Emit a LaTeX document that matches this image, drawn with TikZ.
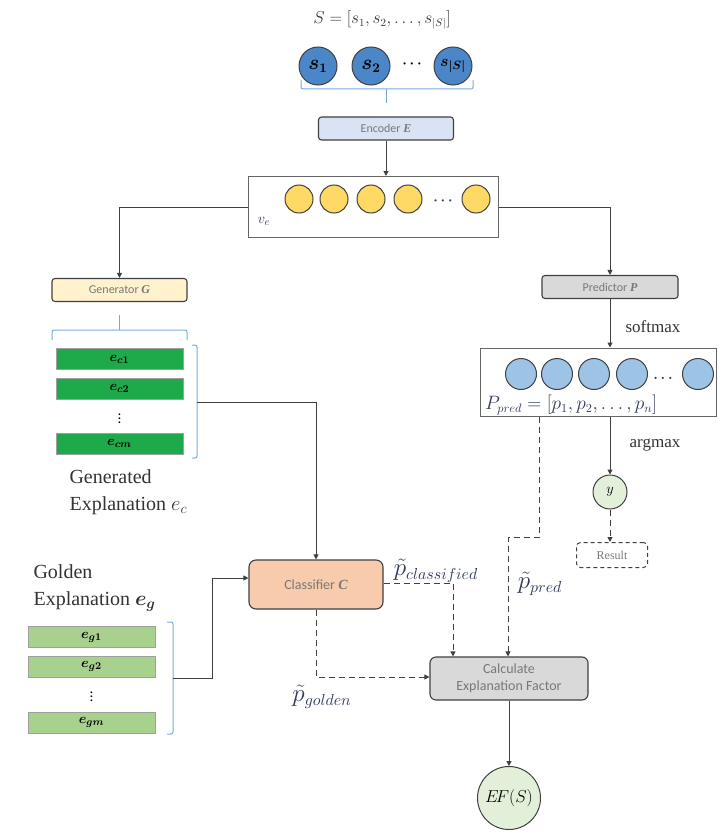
\documentclass[tikz,border=0pt]{standalone}
\usepackage{fontspec}
\usepackage{bm}
\usepackage{graphicx}
\setmainfont{Liberation Serif}
\newfontfamily\boxfont{Carlito}
\usetikzlibrary{arrows.meta}
\definecolor{sblue}{RGB}{74,134,200}
\definecolor{lblue}{RGB}{157,195,230}
\definecolor{yel}{RGB}{255,217,102}
\definecolor{dgreen}{RGB}{30,170,75}
\definecolor{lgreen}{RGB}{169,209,142}
\definecolor{encf}{RGB}{218,227,243}
\definecolor{genf}{RGB}{255,242,204}
\definecolor{grayf}{RGB}{217,217,217}
\definecolor{clsf}{RGB}{248,203,173}
\definecolor{pgreen}{RGB}{226,240,217}
\definecolor{brc}{RGB}{120,170,225}
\definecolor{bord}{RGB}{64,64,64}
\definecolor{txtg}{RGB}{120,120,120}
\definecolor{mtxt}{RGB}{50,60,90}
\begin{document}
\begin{tikzpicture}[x=1pt,y=-1pt,
  box/.style={draw=bord,line width=1.1pt,rounded corners=3pt,inner sep=0pt,font=\boxfont\fontsize{12}{14}\selectfont,text=txtg},
  cont/.style={draw=bord!80,line width=1pt,inner sep=0pt},
  ball/.style={circle,draw=bord,line width=1pt,inner sep=0pt,minimum size=#1},
  bar/.style={draw=bord!50,line width=0.6pt,inner sep=0pt,minimum width=127pt,minimum height=21pt,font=\fontsize{13}{13}\selectfont},
  conn/.style={draw=bord,line width=1pt,-{Triangle[length=5pt,width=5pt]}},
  dconn/.style={draw=bord,line width=1pt,dash pattern=on 6pt off 4pt,-{Triangle[length=5pt,width=5pt]}},
  brk/.style={draw=brc,line width=1pt,rounded corners=2pt},
  lbl/.style={font=\fontsize{16}{18}\selectfont,text=mtxt,inner sep=1pt},
  vd/.style={inner sep=0pt,font=\fontsize{11}{11}\selectfont},
  big/.style={font=\fontsize{20}{27}\selectfont,text=black!80,align=left}
]
\useasboundingbox (0,0) rectangle (718,832);

% title and inputs
\node[lbl,text=black!80] (title) at (382,20) {$S=[s_1,s_2,\ldots,s_{|S|}]$};
\node[ball=38pt,fill=sblue,font=\fontsize{16}{16}\selectfont] (s1) at (318,66) {\scalebox{1.2}{$\bm{s_1}$}};
\node[ball=38pt,fill=sblue,font=\fontsize{16}{16}\selectfont] (s2) at (371,66) {\scalebox{1.2}{$\bm{s_2}$}};
\node[font=\fontsize{15}{15}\selectfont] (sd) at (412,64) {$\bm{\cdots}$};
\node[ball=38pt,fill=sblue,font=\fontsize{15}{15}\selectfont] (sn) at (453,66) {\scalebox{1.1}{$\bm{s_{|S|}}$}};
\coordinate (sbt) at (386,103);
\draw[brk] (301,80) -- (301,89) -- (473,89) -- (473,80);
\draw[brk] (386,89) -- (sbt);

% encoder
\node[box,fill=encf,minimum width=135pt,minimum height=23pt] (enc) at (386,128.5) {Encoder \textbf{\textit{\rmfamily E}}};
\node[cont,minimum width=250pt,minimum height=61pt] (ve) at (373,207) {};
\foreach \x/\n in {299/a,334/b,371/c,408/d,476/f}
  \node[ball=28pt,fill=yel] (y\n) at (\x,199) {};
\node[font=\fontsize{15}{15}\selectfont,text=mtxt] (ydots) at (443,201) {$\bm{\cdots}$};
\node[text=mtxt,font=\fontsize{15}{15}\selectfont] (velbl) at (264,221) {$v_e$};
\draw[conn] (enc.south) -- (ve.north -| enc.south);

% generator side
\node[box,fill=genf,minimum width=135pt,minimum height=23pt] (gen) at (119.5,290) {Generator \textbf{\textit{\rmfamily G}}};
\draw[conn] (ve.west |- 0,207) -| (gen.north);
\draw[brk] (52,340) -- (52,330) -- (187,330) -- (187,340);
\draw[brk] (119.5,330) -- (119.5,315);
\node[bar,fill=dgreen] (ec1) at (119.5,359) {\scalebox{1.15}{$\bm{e_{c1}}$}};
\node[bar,fill=dgreen] (ec2) at (119.5,388.5) {\scalebox{1.15}{$\bm{e_{c2}}$}};
\node[vd] (ecd) at (119.5,416) {$\bm{\vdots}$};
\node[bar,fill=dgreen] (ecm) at (119.5,443.5) {\scalebox{1.15}{$\bm{e_{cm}}$}};
\draw[brk] (192,345) -- (197,345) -- (197,458) -- (192,458);
\coordinate (ecb) at (197,402);
\node[big,anchor=north west] (gtxt) at (66,466) {Generated\\Explanation $e_c$};

% predictor side
\node[box,fill=grayf,minimum width=136pt,minimum height=23pt] (pred) at (610,287) {Predictor \textbf{\textit{\rmfamily P}}};
\draw[conn] (ve.east |- 0,207) -| (pred.north);
\node[cont,minimum width=236pt,minimum height=68pt] (pp) at (598,382) {};
\draw[conn] (pred.south) -- (pp.north -| pred.south);
\node[font=\fontsize{17}{19}\selectfont,text=black!80] (softm) at (653,327) {softmax};
\foreach \x/\n in {521/a,557/b,594/c,632/d,698/f}
  \node[ball=31pt,fill=lblue] (p\n) at (\x,374) {};
\node[font=\fontsize{15}{15}\selectfont,text=mtxt] (pdots) at (663,378) {$\bm{\ldots}$};
\node[lbl,anchor=west] (ptxt) at (484,405) {\scalebox{1.12}{$P_{pred}=[p_1,p_2,\ldots,p_n]$}};
\node[ball=34pt,fill=pgreen,font=\fontsize{15}{15}\selectfont] (yc) at (610,492) {$y$};
\draw[conn] (pp.south -| yc) -- (yc.north);
\node[font=\fontsize{17}{19}\selectfont,text=black!80] (argm) at (655,445) {argmax};
\node[draw=bord,line width=1pt,dash pattern=on 4pt off 3pt,rounded corners=4pt,minimum width=71pt,minimum height=25pt,font=\fontsize{12}{14}\selectfont,text=txtg] (res) at (612,555) {Result};
\draw[dconn] (yc.south) -- (res.north -| yc.south);

% golden explanation
\node[big,anchor=north west] (gotxt) at (30,561) {Golden\\Explanation $\bm{e_g}$};
\node[bar,fill=lgreen] (eg1) at (91.5,637) {\scalebox{1.15}{$\bm{e_{g1}}$}};
\node[bar,fill=lgreen] (eg2) at (91.5,666.5) {\scalebox{1.15}{$\bm{e_{g2}}$}};
\node[vd] (egd) at (91.5,694) {$\bm{\vdots}$};
\node[bar,fill=lgreen] (egm) at (91.5,722.5) {\scalebox{1.15}{$\bm{e_{gm}}$}};
\draw[brk] (167,622) -- (173,622) -- (173,734) -- (167,734);
\coordinate (egb) at (173,678);

% classifier and calc
\node[box,fill=clsf,rounded corners=7pt,minimum width=134pt,minimum height=49pt,font=\boxfont\fontsize{14}{16}\selectfont] (cls) at (316,584.5) {Classifier \textbf{\textit{\rmfamily C}}};
\draw[conn] (ecb) -- (316,402) -- (cls.north);
\draw[conn] (egb) -- (212,678) -- (212,578) -- (cls.west |- 0,578);
\node[box,fill=grayf,rounded corners=6pt,minimum width=158pt,minimum height=43pt,align=center,font=\boxfont\fontsize{14}{17}\selectfont] (calc) at (509,678.5) {Calculate\\Explanation Factor};
\draw[dconn] (cls.east |- 0,583) -- (453,583) -- (calc.north -| 453,0);
\node[lbl] (pcl) at (436,571) {\scalebox{1.45}{$\tilde{p}_{classified}$}};
\draw[dconn] (cls.south) -- (316,677) -- (calc.west |- 0,677);
\node[lbl] (pgo) at (322,697) {\scalebox{1.45}{$\tilde{p}_{golden}$}};
\draw[dconn] (pp.south -| 539,0) -- (539,537) -- (508,537) -- (calc.north -| 508,0);
\node[lbl] (ppr) at (540,584) {\scalebox{1.45}{$\tilde{p}_{pred}$}};
\node[ball=63pt,fill=pgreen,font=\fontsize{17}{19}\selectfont] (ef) at (509,798) {$E\!F(S)$};
\draw[conn] (calc.south -| ef) -- (ef.north);
\end{tikzpicture}
\end{document}
